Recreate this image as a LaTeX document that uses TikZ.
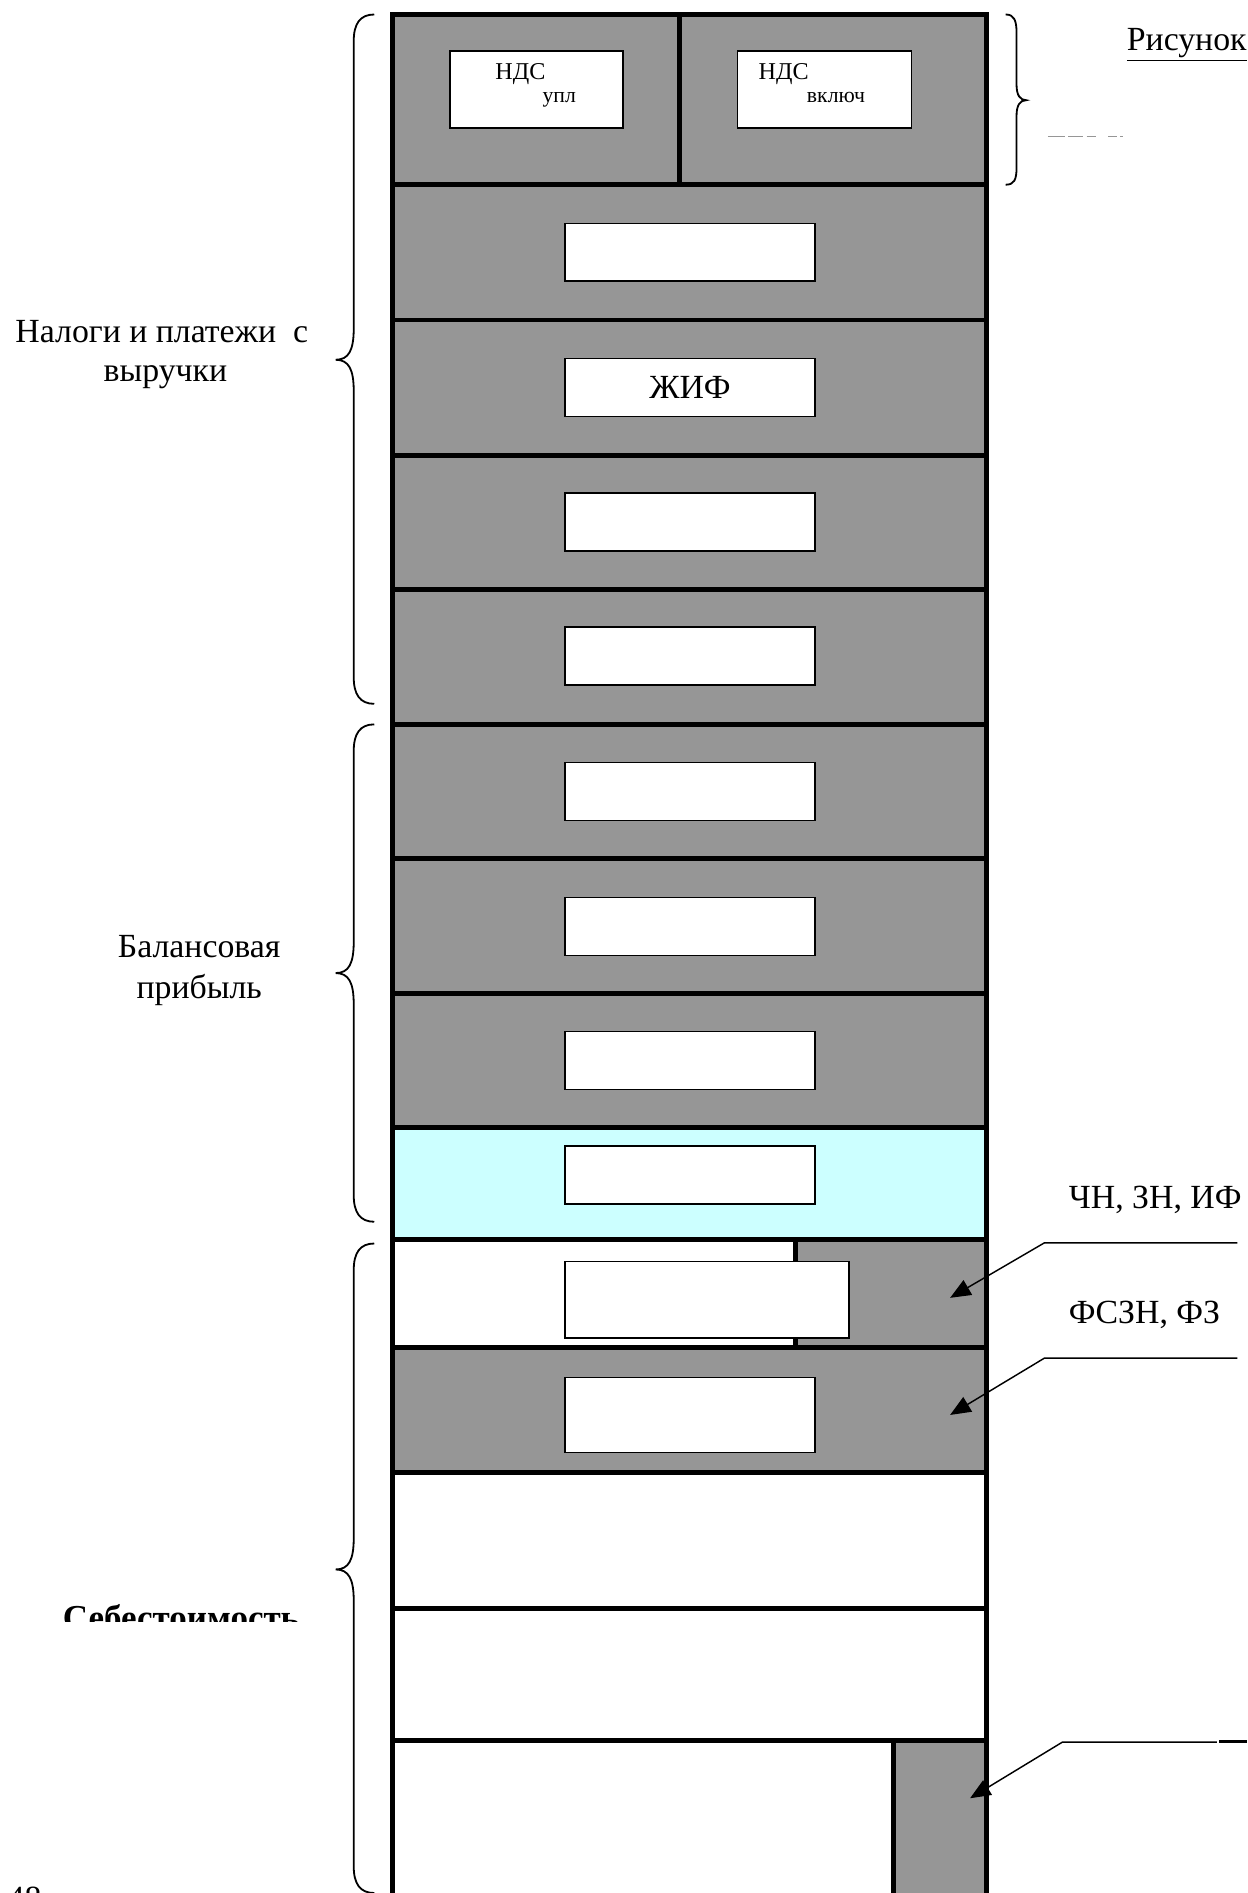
\documentclass[tikz,border=0pt]{standalone}
\usepackage{fontspec}
\setmainfont{Liberation Serif}
\usetikzlibrary{arrows.meta}
\definecolor{cellgray}{RGB}{150,150,150}
\definecolor{cellcyan}{RGB}{204,255,255}
\begin{document}
\begin{tikzpicture}[x=0.5pt,y=-0.5pt,
  thickline/.style={line width=2pt},
  ibox/.style={draw, fill=white, line width=0.7pt, inner sep=0pt, minimum width=103.5pt, minimum height=24pt},
  bracepath/.style={line width=0.75pt},
  lbl/.style={font=\fontsize{14}{16}\selectfont, anchor=base, inner sep=0pt},
  small/.style={font=\fontsize{10}{12}\selectfont, anchor=base west, inner sep=0pt},
  tiny/.style={font=\fontsize{9}{11}\selectfont, anchor=base west, inner sep=0pt},
  leader/.style={line width=0.6pt, -{Triangle[length=8.5pt,width=7pt]}}]
\useasboundingbox (0,0) rectangle (1033,1568);
\clip (0,0) rectangle (1033,1568);

% fills
\fill[cellgray] (325,12) rectangle (817,934);
\fill[cellcyan] (325,934) rectangle (817,1027);
\fill[cellgray] (659,1027) rectangle (817,1116);
\fill[cellgray] (325,1116) rectangle (817,1220);
\fill[cellgray] (740,1442) rectangle (817,1600);

% column lines
\draw[thickline] (325,1600) -- (325,12) -- (817,12) -- (817,1600);
\foreach \yy in {153,265,377,488,600,711,823,934,1027,1116,1220,1332,1442}
  \draw[thickline] (325,\yy) -- (817,\yy);
\draw[thickline] (563,12) -- (563,153);
\draw[thickline] (659,1027) -- (659,1116);
\draw[thickline] (740,1442) -- (740,1600);

% top small boxes
\node[ibox, minimum width=71.5pt, minimum height=32pt] (nA) at (444.5,74) {};
\node[ibox, minimum width=72pt, minimum height=32pt] (nB) at (683,74) {};
\node[small] (tA1) at (410,66) {НДС};
\node[tiny] (tA2) at (449,85) {упл};
\node[small] (tB1) at (628,66) {НДС};
\node[tiny] (tB2) at (668,85) {включ};

% inner boxes
\node[ibox] (b2) at (571.5,209) {};
\node[ibox, font=\fontsize{14}{16}\selectfont] (b3) at (571.5,321) {ЖИФ};
\node[ibox] (b4) at (571.5,432.5) {};
\node[ibox] (b5) at (571.5,543.5) {};
\node[ibox] (b6) at (571.5,655.5) {};
\node[ibox] (b7) at (571.5,767.5) {};
\node[ibox] (b8) at (571.5,878.5) {};
\node[ibox] (b9) at (571.5,973) {};
\node[ibox, minimum width=117.5pt, minimum height=31.5pt] (b10) at (585.5,1076.5) {};
\node[ibox, minimum height=31pt] (b11) at (571.5,1172) {};

% left braces
\draw[bracepath] (310,12) .. controls (298,12) and (293,20) .. (293,34) -- (293,272)
  .. controls (293,290) and (289,298) .. (278,298)
  .. controls (289,298) and (293,306) .. (293,324) -- (293,561)
  .. controls (293,575) and (298,583) .. (310,583);
\draw[bracepath] (310,600) .. controls (298,600) and (293,608) .. (293,622) -- (293,780)
  .. controls (293,798) and (289,806) .. (278,806)
  .. controls (289,806) and (293,814) .. (293,832) -- (293,990)
  .. controls (293,1004) and (298,1012) .. (310,1012);
\draw[bracepath] (310,1030) .. controls (298,1030) and (293,1038) .. (293,1052) -- (293,1274)
  .. controls (293,1292) and (289,1300) .. (278,1300)
  .. controls (289,1300) and (293,1308) .. (293,1326) -- (293,1546)
  .. controls (293,1560) and (298,1568) .. (310,1568);
% right brace
\draw[bracepath] (833,12) .. controls (840,12) and (842,17) .. (842,27) -- (842,70)
  .. controls (842,79) and (845,83) .. (850,83)
  .. controls (845,83) and (842,87) .. (842,96) -- (842,139)
  .. controls (842,149) and (840,153) .. (833,153);

% left labels
\node[lbl] (l1a) at (134,284) {Налоги и платежи\ \ с};
\node[lbl] (l1b) at (137,316) {выручки};
\node[lbl] (l2a) at (165,793) {Балансовая};
\node[lbl] (l2b) at (165,827) {прибыль};
\begin{scope}
  \clip (0,1300) rectangle (320,1343);
  \node[lbl, font=\fontsize{14.5}{16}\selectfont\bfseries] (l3) at (150,1350) {Себестоимость};
\end{scope}
\node[lbl, anchor=base west] (pg) at (6,1582) {48};

% top right
\node[lbl, anchor=base west] (fig) at (933,41.5) {\underline{Рисунок}};
\foreach \a/\b in {868/882,885/897,900/908,918/925,928/930}
  \draw[cellgray, line width=0.6pt] (\a,113) -- (\b,113);

% right labels and leaders
\node[lbl, anchor=base west] (r1) at (885,1001) {ЧН, ЗН, ИФ};
\node[lbl, anchor=base west] (r2) at (885,1096) {ФСЗН, ФЗ};
\coordinate (e1) at (1025,1029.5);
\coordinate (k1) at (865,1029.5);
\coordinate (t1) at (787,1075);
\coordinate (e2) at (1025,1125);
\coordinate (k2) at (865,1125);
\coordinate (t2) at (787,1172);
\coordinate (e3) at (1008,1443);
\coordinate (k3) at (880,1443);
\coordinate (t3) at (803.5,1489.5);
\coordinate (d1) at (1010,1442.5);
\coordinate (d2) at (1033,1442.5);
\draw[leader] (e1) -- (k1) -- (t1);
\draw[leader] (e2) -- (k2) -- (t2);
\draw[leader] (e3) -- (k3) -- (t3);
\draw[line width=1pt] (d1) -- (d2);
\end{tikzpicture}
\end{document}
